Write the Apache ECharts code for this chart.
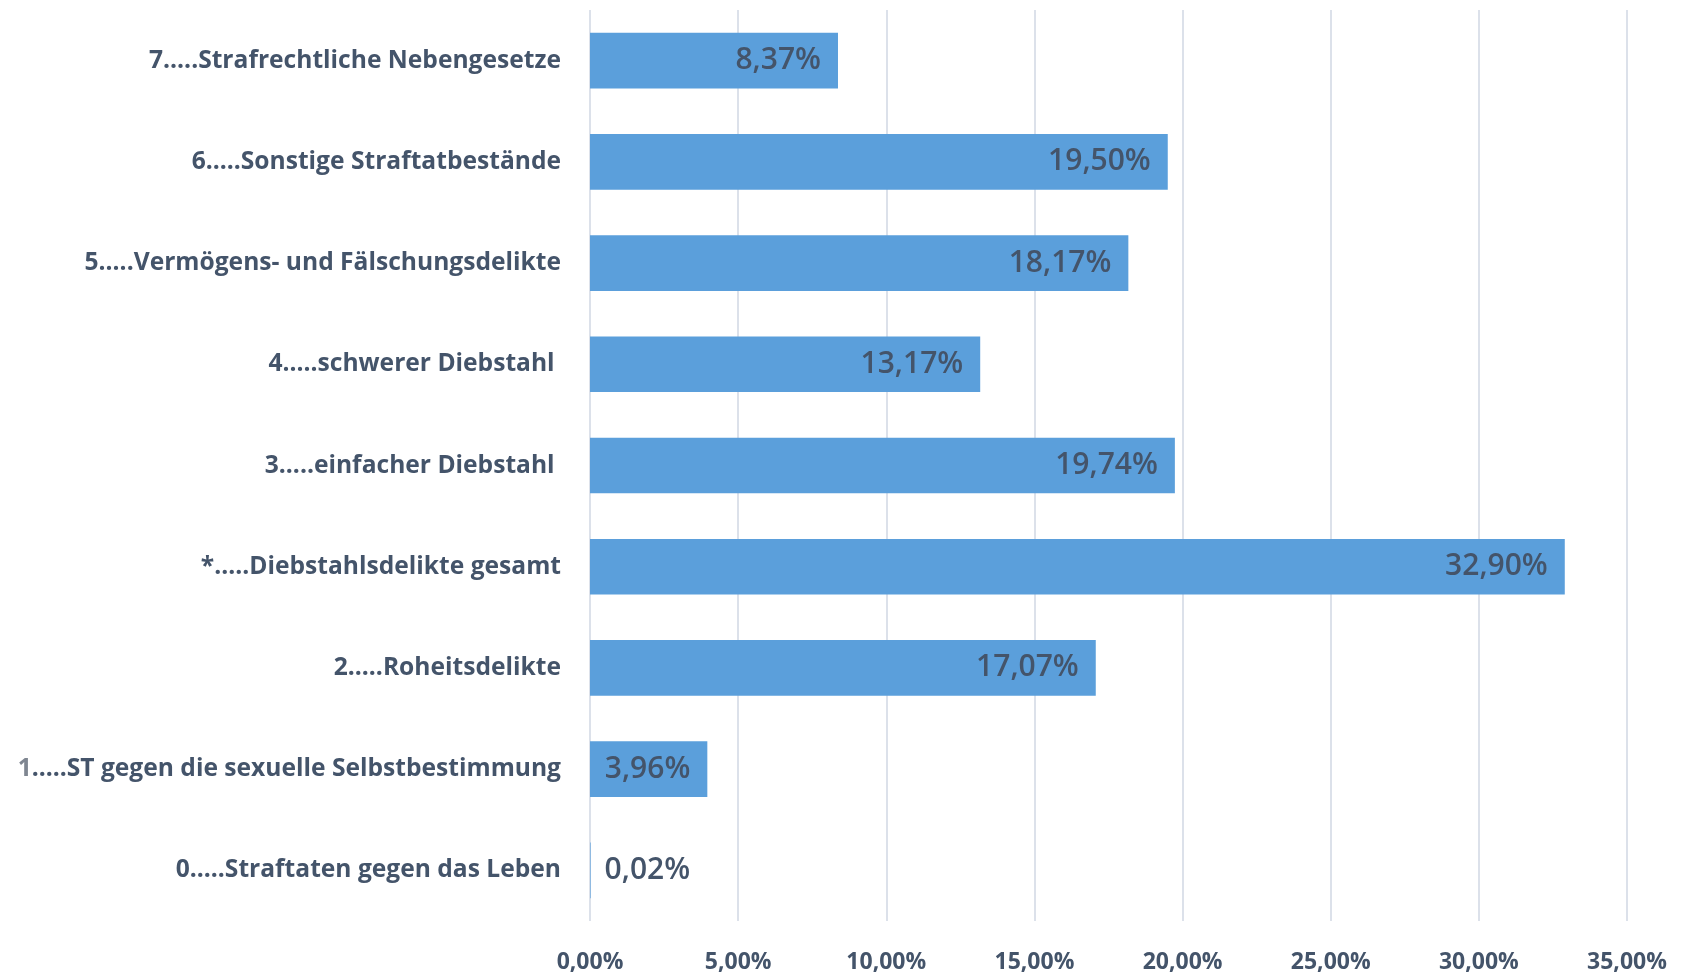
<!DOCTYPE html>
<html>
<head>
<meta charset="utf-8">
<script src="https://cdn.jsdelivr.net/npm/echarts@6/dist/echarts.min.js"></script>
<style>
  html, body { margin: 0; padding: 0; background: #fff; }
  #chart { width: 1685px; height: 976px; }
</style>
</head>
<body>
<div id="chart"></div>
<script>
// categories from bottom to top
const categories = [
    '0.....Straftaten gegen das Leben',
    '1.....ST gegen die sexuelle Selbstbestimmung',
    '2.....Roheitsdelikte',
    '*.....Diebstahlsdelikte gesamt',
    '3.....einfacher Diebstahl ',
    '4.....schwerer Diebstahl ',
    '5.....Vermögens- und Fälschungsdelikte',
    '6.....Sonstige Straftatbestände',
    '7.....Strafrechtliche Nebengesetze'
]
const shares = [0.02, 3.96, 17.07, 32.90, 19.74, 13.17, 18.17, 19.50, 8.37]
const xTicks = [0, 5, 10, 15, 20, 25, 30, 35]

const fmt = v => v.toFixed(2).replace('.', ',') + '%'

const textColor = '#44546A'
const font = '"Open Sans", sans-serif'

const chart = echarts.init(document.getElementById('chart'))

const option = {
    animation: false,
    grid: {
        left: 590,
        right: 58,
        top: 10,
        bottom: 55
    },
    xAxis: {
        type: 'value',
        min: xTicks[0],
        max: xTicks[xTicks.length - 1],
        interval: 5,
        axisLine: { show: false },
        axisTick: { show: false },
        axisLabel: {
            formatter: fmt,
            color: textColor,
            fontFamily: font,
            fontWeight: 'bold',
            fontSize: 23,
            margin: 30
        },
        splitLine: {
            lineStyle: { color: '#DCE1EA', width: 2 }
        }
    },
    yAxis: {
        type: 'category',
        data: categories,
        axisLine: { show: false },
        axisTick: { show: false },
        axisLabel: {
            color: textColor,
            fontFamily: font,
            fontWeight: 'bold',
            fontSize: 24.6,
            margin: 29,
            formatter: v => v.startsWith('1.') ? '{g|1}' + v.slice(1) : v,
            rich: {
                g: {
                    color: '#7F8691',
                    fontFamily: font,
                    fontWeight: 'bold',
                    fontSize: 24.6
                }
            }
        }
    },
    series: [
        {
            type: 'bar',
            barCategoryGap: '45%',
            data: shares.map(v => v < 1 ? {
                value: v,
                label: { position: 'right', distance: 14 }
            } : v),
            itemStyle: {
                color: '#5B9FDB'
            },
            label: {
                show: true,
                position: 'insideRight',
                distance: 17,
                formatter: p => fmt(p.value),
                color: textColor,
                fontFamily: font,
                fontWeight: 600,
                fontSize: 30
            }
        }
    ]
}

chart.setOption(option)
window.addEventListener('resize', () => chart.resize())
</script>
</body>
</html>
